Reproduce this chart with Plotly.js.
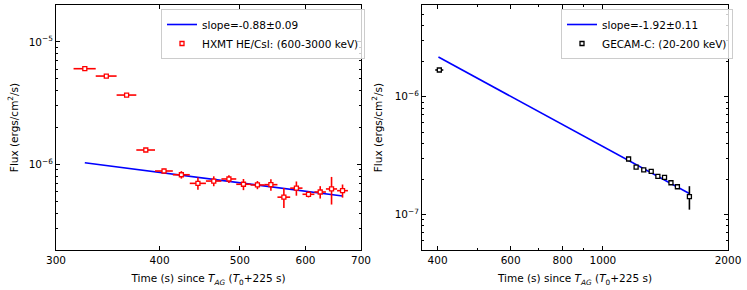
<!DOCTYPE html>
<html>
<head>
<meta charset="utf-8">
<script src="https://cdn.plot.ly/plotly-3.0.1.min.js"></script>
<style>html,body{margin:0;padding:0;background:#fff;}#chart{width:747px;height:290px;}</style>
</head>
<body>
<div id="chart"></div>
<script>
// ---- Left panel: HXMT HE/CsI (600-3000 keV) ----
const hxmtTime = [325, 345, 365, 385, 405, 425, 445, 465, 485, 505, 525, 545, 565, 585, 605, 625, 645, 665];
const hxmtTimeErr = [10, 10, 10, 10, 10, 10, 10, 10, 10, 10, 10, 10, 10, 10, 10, 10, 10, 10];
const hxmtFlux = [6.04e-6, 5.26e-6, 3.68e-6, 1.31e-6, 8.83e-7, 8.23e-7, 7.0e-7, 7.31e-7, 7.60e-7, 6.88e-7, 6.79e-7, 6.83e-7, 5.4e-7, 6.4e-7, 5.70e-7, 5.95e-7, 6.3e-7, 6.10e-7];
const hxmtFluxErr = [0.8e-7, 0.7e-7, 0.5e-7, 0.3e-7, 0.38e-7, 0.58e-7, 0.8e-7, 0.68e-7, 0.56e-7, 0.72e-7, 0.52e-7, 0.73e-7, 1.0e-7, 0.85e-7, 0.33e-7, 0.69e-7, 1.6e-7, 0.75e-7];
const hxmtFitTime = [325, 665];
const hxmtFitFlux = [1.03e-6, 5.52e-7];
const hxmtFitLabel = 'slope=-0.88±0.09';
const hxmtLabel = 'HXMT HE/CsI: (600-3000 keV)';

// ---- Right panel: GECAM-C (20-200 keV) ----
const gecamTime = [404, 1153, 1202, 1254, 1307, 1356, 1407, 1458, 1511, 1615];
const gecamTimeErr = [9, 5, 5, 5, 5, 5, 5, 5, 5, 5];
const gecamFlux = [1.685e-6, 2.96e-7, 2.53e-7, 2.39e-7, 2.32e-7, 2.11e-7, 2.07e-7, 1.86e-7, 1.72e-7, 1.42e-7];
const gecamFluxErr = [0.03e-6, 0.05e-7, 0.05e-7, 0.05e-7, 0.05e-7, 0.05e-7, 0.05e-7, 0.05e-7, 0.05e-7, 0.32e-7];
const gecamFitTime = [402, 1618];
const gecamFitFlux = [2.17e-6, 1.50e-7];
const gecamFitLabel = 'slope=-1.92±0.11';
const gecamLabel = 'GECAM-C: (20-200 keV)';

// tick labels
const leftXTicks = [300, 400, 500, 600, 700];
const rightXTicks = [400, 600, 800, 1000, 2000];
const rightXMinor = [500, 700, 900];
const leftYTicks = [1e-6, 1e-5];
const leftYTickText = ['10<sup>−6</sup>', '10<sup>−5</sup>'];
const rightYTicks = [1e-7, 1e-6];
const rightYTickText = ['10<sup>−7</sup>', '10<sup>−6</sup>'];

function logMinor(lo, hi) {
  const out = [];
  for (let e = Math.floor(Math.log10(lo)); e <= Math.ceil(Math.log10(hi)); e++) {
    for (let m = 2; m <= 9; m++) {
      const v = m * Math.pow(10, e);
      if (v >= lo * 0.999 && v <= hi * 1.001) out.push(v);
    }
  }
  return out;
}

const FONT = 'DejaVu Sans, sans-serif';
const traces = [
  {
    x: hxmtFitTime, y: hxmtFitFlux, type: 'scatter', mode: 'lines',
    name: hxmtFitLabel, line: {color: '#0000ff', width: 1.6},
    xaxis: 'x', yaxis: 'y', legend: 'legend'
  },
  {
    x: hxmtTime, y: hxmtFlux, type: 'scatter', mode: 'markers',
    name: hxmtLabel,
    error_x: {type: 'data', array: hxmtTimeErr, color: '#ff0000', thickness: 1.6, width: 0},
    error_y: {type: 'data', array: hxmtFluxErr, color: '#ff0000', thickness: 1.6, width: 0},
    marker: {symbol: 'square', size: 4, color: '#ffffff', line: {color: '#ff0000', width: 1.3}},
    xaxis: 'x', yaxis: 'y', legend: 'legend'
  },
  {
    x: gecamFitTime, y: gecamFitFlux, type: 'scatter', mode: 'lines',
    name: gecamFitLabel, line: {color: '#0000ff', width: 1.6},
    xaxis: 'x2', yaxis: 'y2', legend: 'legend2'
  },
  {
    x: gecamTime, y: gecamFlux, type: 'scatter', mode: 'markers',
    name: gecamLabel,
    error_x: {type: 'data', array: gecamTimeErr, color: '#000000', thickness: 1.6, width: 0},
    error_y: {type: 'data', array: gecamFluxErr, color: '#000000', thickness: 1.6, width: 0},
    marker: {symbol: 'square', size: 4, color: '#ffffff', line: {color: '#000000', width: 1.3}},
    xaxis: 'x2', yaxis: 'y2', legend: 'legend2'
  }
];

const axBase = {
  showline: true, linecolor: '#000', linewidth: 1, mirror: 'allticks',
  ticks: 'inside', ticklen: 4, tickwidth: 1, tickcolor: '#000',
  showgrid: false, zeroline: false, type: 'log',
  tickfont: {family: FONT, size: 10.5, color: '#000'}
};
const xTitle = 'Time (s) since <i>T</i><sub><i>AG</i></sub> (<i>T</i><sub>0</sub>+225 s)';
const yTitle = 'Flux (ergs/cm<sup>2</sup>/s)';

const layout = {
  width: 747, height: 290,
  margin: {l: 0, r: 0, t: 0, b: 0},
  paper_bgcolor: '#fff', plot_bgcolor: '#fff',
  font: {family: FONT, size: 10.5, color: '#000'},
  xaxis: Object.assign({}, axBase, {
    domain: [56/747, 361/747], anchor: 'y',
    range: [Math.log10(300), Math.log10(700)],
    tickmode: 'array', tickvals: leftXTicks, ticktext: leftXTicks.map(String),
    title: {text: xTitle, font: {family: FONT, size: 10.5}, standoff: 10}
  }),
  yaxis: Object.assign({}, axBase, {
    domain: [40/290, 285/290], anchor: 'x',
    range: [Math.log10(2e-7), Math.log10(2e-5)],
    tickmode: 'array', tickvals: leftYTicks, ticktext: leftYTickText,
    minor: {tickmode: 'array', tickvals: logMinor(2e-7, 2e-5), ticks: 'inside', ticklen: 2, tickcolor: '#000'},
    title: {text: yTitle, font: {family: FONT, size: 10.5}, standoff: 8}
  }),
  xaxis2: Object.assign({}, axBase, {
    domain: [422/747, 728/747], anchor: 'y2',
    range: [Math.log10(367), Math.log10(2000)],
    tickmode: 'array', tickvals: rightXTicks, ticktext: rightXTicks.map(String),
    minor: {tickmode: 'array', tickvals: rightXMinor, ticks: 'inside', ticklen: 2, tickcolor: '#000'},
    title: {text: xTitle, font: {family: FONT, size: 10.5}, standoff: 10}
  }),
  yaxis2: Object.assign({}, axBase, {
    domain: [40/290, 285/290], anchor: 'x2',
    range: [Math.log10(5e-8), Math.log10(6e-6)],
    tickmode: 'array', tickvals: rightYTicks, ticktext: rightYTickText,
    minor: {tickmode: 'array', tickvals: logMinor(5e-8, 6e-6), ticks: 'inside', ticklen: 2, tickcolor: '#000'},
    title: {text: yTitle, font: {family: FONT, size: 10.5}, standoff: 10}
  }),
  legend: {
    x: 161/747, y: 1 - 9/290, xanchor: 'left', yanchor: 'top',
    bgcolor: 'rgba(255,255,255,0.8)', bordercolor: '#cccccc', borderwidth: 1,
    font: {family: FONT, size: 10.5, color: '#000'}, tracegroupgap: 0, itemwidth: 30
  },
  legend2: {
    x: 561/747, y: 1 - 9/290, xanchor: 'left', yanchor: 'top',
    bgcolor: 'rgba(255,255,255,0.8)', bordercolor: '#cccccc', borderwidth: 1,
    font: {family: FONT, size: 10.5, color: '#000'}, tracegroupgap: 0, itemwidth: 30
  },
  showlegend: true
};

Plotly.newPlot('chart', traces, layout, {staticPlot: true, displayModeBar: false});
</script>
</body>
</html>
